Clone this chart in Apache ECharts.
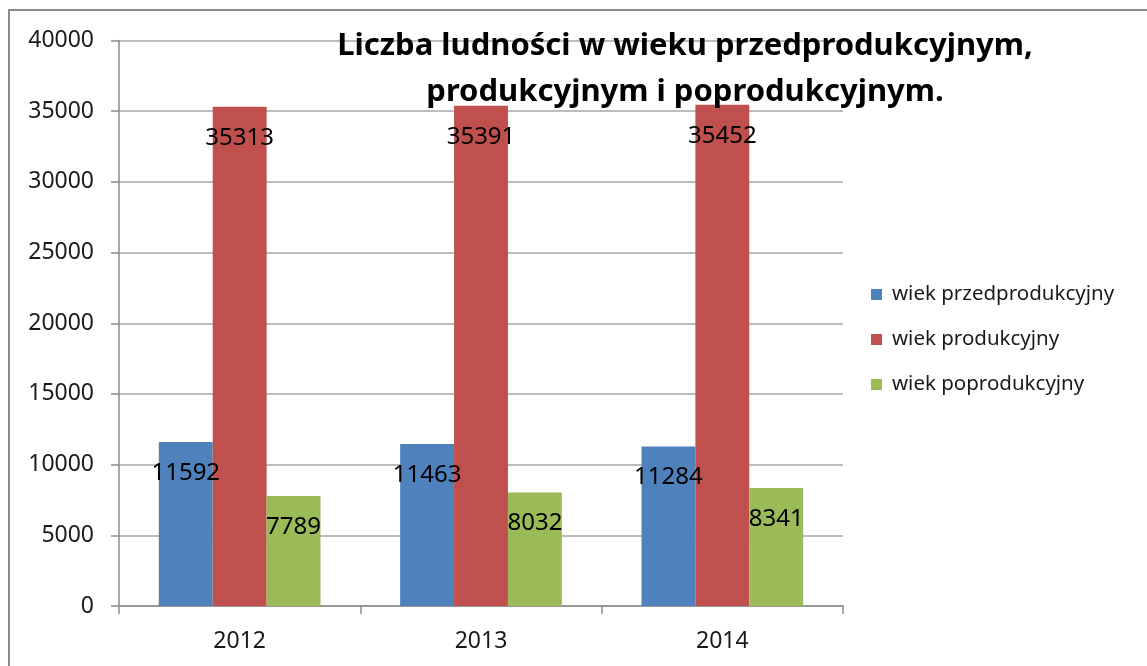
<!DOCTYPE html>
<html>
<head>
<meta charset="utf-8">
<script src="https://cdn.jsdelivr.net/npm/echarts@6/dist/echarts.min.js"></script>
<style>
html,body{margin:0;padding:0;background:#fff;}
#chart{width:1147px;height:666px;}
</style>
</head>
<body>
<div id="chart"></div>
<script>
const years = ['2012', '2013', '2014'];
const seriesNames = ['wiek przedprodukcyjny', 'wiek produkcyjny', 'wiek poprodukcyjny'];
const przedprodukcyjny = [11592, 11463, 11284];
const produkcyjny = [35313, 35391, 35452];
const poprodukcyjny = [7789, 8032, 8341];
const colors = ['#4F81BD', '#C0504D', '#9BBB59'];
const titleText = 'Liczba ludności w wieku przedprodukcyjnym,\nprodukcyjnym i poprodukcyjnym.';

const FONT = 'Noto Sans';
const chart = echarts.init(document.getElementById('chart'));

function makeSeries(name, data, color) {
  return {
    name: name,
    type: 'bar',
    data: data,
    barGap: '0%',
    barCategoryGap: '33%',
    itemStyle: { color: color },
    label: {
      show: true,
      position: 'insideTop',
      distance: 19,
      color: '#000',
      fontFamily: FONT,
      fontSize: 24
    },
    z: 2
  };
}

chart.setOption({
  animation: false,
  backgroundColor: '#fff',
  title: {
    text: titleText,
    left: 685,
    top: 23,
    padding: 0,
    textAlign: 'center',
    textStyle: {
      fontFamily: FONT,
      fontWeight: 'bold',
      fontSize: 31,
      lineHeight: 46,
      color: '#000'
    },
    z: 10
  },
  legend: {
    orient: 'vertical',
    left: 871,
    top: 284,
    padding: 0,
    itemWidth: 11,
    itemHeight: 11,
    itemGap: 24,
    icon: 'rect',
    textStyle: { fontFamily: FONT, fontSize: 20.5, color: '#1a1a1a', padding: [0, 0, 0, 5] },
    data: seriesNames
  },
  grid: { left: 119, right: 304, top: 40.5, bottom: 60, containLabel: false },
  xAxis: {
    type: 'category',
    data: years,
    axisLine: { show: true, lineStyle: { color: '#8c8c8c', width: 1.5 } },
    axisTick: { show: true, length: 8, alignWithLabel: false, lineStyle: { color: '#8c8c8c', width: 1.5 } },
    axisLabel: { margin: 24, fontFamily: FONT, fontSize: 23, color: '#1a1a1a' }
  },
  yAxis: {
    type: 'value',
    min: 0,
    max: 40000,
    interval: 5000,
    axisLine: { show: true, lineStyle: { color: '#8c8c8c', width: 1.5 } },
    axisTick: { show: true, length: 8, lineStyle: { color: '#8c8c8c', width: 1.5 } },
    axisLabel: { margin: 25, fontFamily: FONT, fontSize: 23, color: '#1a1a1a', formatter: function (v) { return String(v); } },
    splitLine: { show: true, lineStyle: { color: '#a6a6a6', width: 1.5 } }
  },
  graphic: [{
    type: 'rect',
    shape: { x: 9, y: 10, width: 1300, height: 800 },
    style: { fill: 'none', stroke: '#8a8a8a', lineWidth: 2 },
    silent: true,
    z: 100
  }],
  series: [
    makeSeries(seriesNames[0], przedprodukcyjny, colors[0]),
    makeSeries(seriesNames[1], produkcyjny, colors[1]),
    makeSeries(seriesNames[2], poprodukcyjny, colors[2])
  ]
});
</script>
</body>
</html>
